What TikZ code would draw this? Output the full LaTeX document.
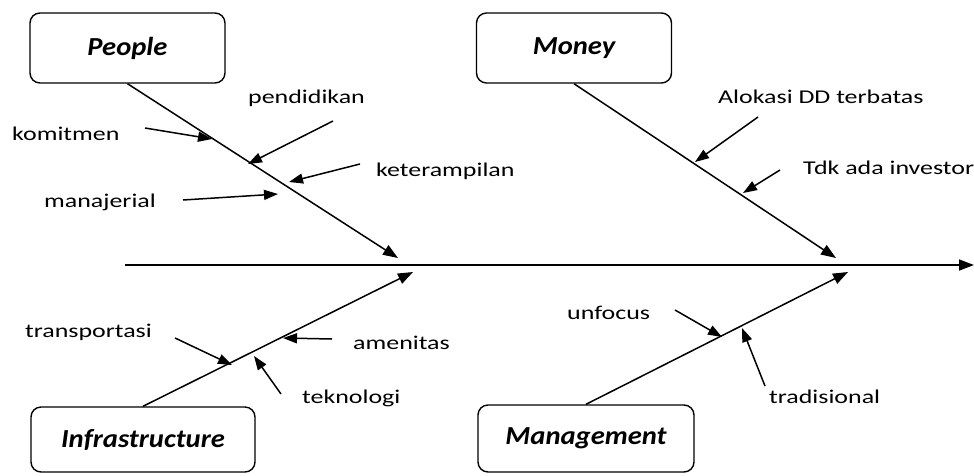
\documentclass[tikz,border=0pt]{standalone}
\usepackage{fontspec}
\setmainfont{Carlito}[FakeStretch=1.33]
\newfontfamily\catfont{Carlito}[FakeStretch=1.1]
\usetikzlibrary{arrows.meta}

\begin{document}
\begin{tikzpicture}[x=1pt, y=-1pt,
		catbox/.style={draw, rounded corners=10pt, line width=1.4pt, minimum width=195pt, minimum height=70pt,
			font=\catfont\bfseries\itshape\fontsize{26}{30}\selectfont},
		cause/.style={anchor=base west, inner sep=0pt, font=\fontsize{19.5}{23}\selectfont},
		bone/.style={line width=1.5pt, -{Triangle[length=15pt, width=11pt]}},
		twig/.style={line width=1.5pt, -{Triangle[length=14pt, width=10pt]}}]

		\useasboundingbox (0,0) rectangle (974,475);

		% Categories
		\node[catbox] (people) at (127.5,48) {People};
		\node[catbox] (money) at (574,48) {Money};
		\node[catbox, minimum width=224pt, minimum height=65pt] (infra) at (143,439.5) {Infrastructure};
		\node[catbox, minimum width=216pt, minimum height=67pt] (mgmt) at (586,438.5) {Management};

		% Spine
		\coordinate (tail) at (125,265);
		\coordinate (head) at (974,265);
		\draw[bone] (tail) -- (head);

		% Bones
		\coordinate (ptip) at (398,258);
		\coordinate (mtip) at (836,258);
		\coordinate (itip) at (413,272);
		\coordinate (gtip) at (848,272);
		\draw[bone] (people.south) -- (ptip);
		\draw[bone] (money.south) -- (mtip);
		\draw[bone] (infra.north) -- (itip);
		\draw[bone] (mgmt.north) -- (gtip);

		% Causes
		\node[cause] (komitmen) at (12,140) {komitmen};
		\node[cause] (pendidikan) at (248,103.5) {pendidikan};
		\node[cause] (keterampilan) at (376,176) {keterampilan};
		\node[cause] (manajerial) at (44,207) {manajerial};
		\node[cause] (alokasi) at (718,103) {Alokasi DD terbatas};
		\node[cause] (investor) at (803,174.5) {Tdk ada investor};
		\node[cause] (transportasi) at (25,337) {transportasi};
		\node[cause] (amenitas) at (353,349) {amenitas};
		\node[cause] (teknologi) at (302,403) {teknologi};
		\node[cause] (unfocus) at (567,319) {unfocus};
		\node[cause] (tradisional) at (769,403) {tradisional};

		% Arrow ends
		\coordinate (k1) at (145,128);  \coordinate (k2) at (212,139);
		\coordinate (p1) at (333,121);  \coordinate (p2) at (248,164);
		\coordinate (e1) at (360,164);  \coordinate (e2) at (289,182);
		\coordinate (m1) at (183,200);  \coordinate (m2) at (278,194);
		\coordinate (a1) at (758,117);  \coordinate (a2) at (695,162);
		\coordinate (d1) at (780,170);  \coordinate (d2) at (743,193);
		\coordinate (t1) at (175,338);  \coordinate (t2) at (232,365);
		\coordinate (n1) at (332,339);  \coordinate (n2) at (283,338);
		\coordinate (o1) at (281,394);  \coordinate (o2) at (254,356);
		\coordinate (u1) at (675,310);  \coordinate (u2) at (722,337);
		\coordinate (r1) at (765,386);  \coordinate (r2) at (742,328);

		% Edges
		\draw[twig] (k1) -- (k2);
		\draw[twig] (p1) -- (p2);
		\draw[twig] (e1) -- (e2);
		\draw[twig] (m1) -- (m2);
		\draw[twig] (a1) -- (a2);
		\draw[twig] (d1) -- (d2);
		\draw[twig] (t1) -- (t2);
		\draw[twig] (n1) -- (n2);
		\draw[twig] (o1) -- (o2);
		\draw[twig] (u1) -- (u2);
		\draw[twig] (r1) -- (r2);

	\end{tikzpicture}
\end{document}
